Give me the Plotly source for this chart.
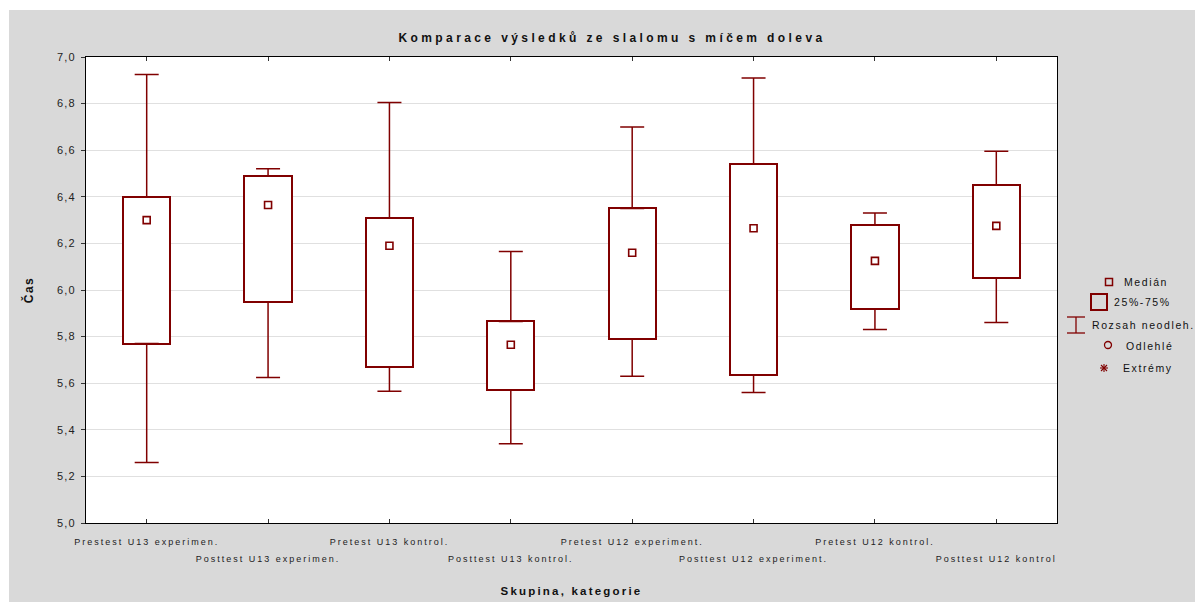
import plotly.graph_objects as go

# ---------------- data ----------------
categories = ["Prestest U13 experimen.", "Posttest U13 experimen.", "Pretest U13 kontrol.",
              "Posttest U13 kontrol.", "Pretest U12 experiment.", "Posttest U12 experiment.",
              "Pretest U12 kontrol.", "Posttest U12 kontrol"]
median = [6.30, 6.365, 6.19, 5.765, 6.16, 6.265, 6.125, 6.275]
q1 = [5.77, 5.95, 5.67, 5.57, 5.79, 5.635, 5.92, 6.05]
q3 = [6.40, 6.49, 6.31, 5.865, 6.35, 6.54, 6.28, 6.45]
whisk_lo = [5.26, 5.625, 5.565, 5.34, 5.63, 5.56, 5.83, 5.86]
whisk_hi = [6.925, 6.52, 6.805, 6.165, 6.70, 6.91, 6.33, 6.595]
ytick_vals = [5.0, 5.2, 5.4, 5.6, 5.8, 6.0, 6.2, 6.4, 6.6, 6.8, 7.0]

title_text = "Komparace výsledků ze slalomu s míčem doleva"
xtitle = "Skupina, kategorie"
ytitle = "Čas"
legend_labels = ["Medián", "25%-75%", "Rozsah neodleh.", "Odlehlé", "Extrémy"]

# ---------------- styling ----------------
RED = "#800000"
OFF = 8                      # page body margin
W, H = 1203 - OFF, 602 - OFF  # figure size
# plot area in page pixels: x 86..1057, y 57..523
ML, MR, MT, MB = 86 - OFF, 1203 - 1057, 57 - OFF, 602 - 523
PW, PH = W - ML - MR, H - MT - MB
FONT = "Liberation Sans, Arial, sans-serif"


def px2x(px):  # page pixel -> paper x
    return (px - OFF - ML) / PW


def px2y(py):  # page pixel -> paper y
    return (H - MB - (py - OFF)) / PH


def spaced(t, size, ls, bold=False):
    s = f"<span style='font-size:{size}px;letter-spacing:{ls}px'>{t}</span>"
    return f"<b>{s}</b>" if bold else s


fig = go.Figure()

# boxes (25%-75%)
fig.add_trace(go.Bar(
    x=categories, base=q1, y=[b - a for a, b in zip(q1, q3)],
    width=0.39, marker=dict(color="white", line=dict(color=RED, width=2)),
    showlegend=False, hoverinfo="skip"))

# upper whiskers
fig.add_trace(go.Scatter(
    x=categories, y=q3, mode="markers",
    marker=dict(size=1, color="rgba(0,0,0,0)"),
    error_y=dict(type="data", symmetric=False,
                 array=[h - b for h, b in zip(whisk_hi, q3)],
                 arrayminus=[0] * len(q3), color=RED, thickness=1.5, width=12),
    showlegend=False, hoverinfo="skip"))

# lower whiskers
fig.add_trace(go.Scatter(
    x=categories, y=q1, mode="markers",
    marker=dict(size=1, color="rgba(0,0,0,0)"),
    error_y=dict(type="data", symmetric=False,
                 array=[0] * len(q1),
                 arrayminus=[a - l for a, l in zip(q1, whisk_lo)],
                 color=RED, thickness=1.5, width=12),
    showlegend=False, hoverinfo="skip"))

# medians
fig.add_trace(go.Scatter(
    x=categories, y=median, mode="markers",
    marker=dict(symbol="square-open", size=7, color=RED, line=dict(width=1.6)),
    showlegend=False, hoverinfo="skip"))

ticktext = []
for i, c in enumerate(categories):
    s = spaced(c, 9, 2.0)
    ticktext.append(("<br>" + s) if i % 2 == 1 else s)

ytext = [spaced(f"{v:.1f}".replace(".", ","), 11, 1.2) for v in ytick_vals]

shapes = []
# thin white strips so the grey panel starts like the original (top 10px, left 9px)
shapes.append(dict(type="rect", xref="paper", yref="paper", layer="below",
                   x0=px2x(0), x1=px2x(1203), y0=px2y(10), y1=px2y(0),
                   fillcolor="white", line=dict(width=0)))
shapes.append(dict(type="rect", xref="paper", yref="paper", layer="below",
                   x0=px2x(0), x1=px2x(9), y0=px2y(602), y1=px2y(0),
                   fillcolor="white", line=dict(width=0)))


def prect(x0, y0, x1, y1, lw):
    shapes.append(dict(type="rect", xref="paper", yref="paper",
                       x0=px2x(x0), x1=px2x(x1), y0=px2y(y1), y1=px2y(y0),
                       line=dict(color=RED, width=lw), fillcolor="rgba(0,0,0,0)"))


def pline(x0, y0, x1, y1, lw=1.3):
    shapes.append(dict(type="line", xref="paper", yref="paper",
                       x0=px2x(x0), x1=px2x(x1), y0=px2y(y0), y1=px2y(y1),
                       line=dict(color=RED, width=lw)))


# legend symbols
prect(1105.5, 278.5, 1112.5, 285.5, 1.5)          # Medián
prect(1091, 294, 1107, 310, 2)                    # 25-75
pline(1067, 317, 1085, 317)                       # whisker symbol
pline(1067, 333, 1085, 333)
pline(1076, 317, 1076, 333)
shapes.append(dict(type="circle", xref="paper", yref="paper",
                   x0=px2x(1104.5), x1=px2x(1111.5), y0=px2y(348.5), y1=px2y(341.5),
                   line=dict(color=RED, width=1.3)))
pline(1100, 368, 1108, 368, 1.1)                  # asterisk
pline(1104, 364, 1104, 372, 1.1)
pline(1101, 365, 1107, 371, 1.1)
pline(1101, 371, 1107, 365, 1.1)

annotations = []
leg_pos = [(1122, 282), (1112, 302), (1090, 325), (1124, 346), (1121, 368)]
for lab, (lx, ly) in zip(legend_labels, leg_pos):
    annotations.append(dict(xref="paper", yref="paper", x=px2x(lx), y=px2y(ly),
                            xanchor="left", yanchor="middle", showarrow=False,
                            text=spaced(lab, 10.5, 1.6),
                            font=dict(family=FONT, size=10.5, color="#111")))

fig.update_layout(
    width=W, height=H, autosize=False,
    margin=dict(l=ML, r=MR, t=MT, b=MB, pad=0, autoexpand=False),
    paper_bgcolor="#d9d9d9", plot_bgcolor="white",
    font=dict(family=FONT, color="#111"),
    title=dict(text=spaced(title_text, 12, 3.4, bold=True),
               x=(612 - OFF) / W, xanchor="center", xref="container",
               y=1 - (38 - OFF) / H, yanchor="middle", yref="container",
               font=dict(family=FONT, size=12, color="#111")),
    showlegend=False,
    shapes=shapes, annotations=annotations,
    bargap=0,
)

fig.update_xaxes(
    type="category", categoryorder="array", categoryarray=categories,
    range=[-0.5, len(categories) - 0.5], automargin=False,
    tickvals=categories, ticktext=ticktext, tickangle=0,
    tickfont=dict(family=FONT, size=13, color="#222"),
    ticks="inside", ticklen=4, tickcolor="#333", ticklabelstandoff=5,
    showline=True, linecolor="black", linewidth=1, mirror="ticks",
    showgrid=False, zeroline=False,
    title=dict(text=spaced(xtitle, 11.5, 2.2, bold=True),
               font=dict(family=FONT, size=11.5, color="#111"), standoff=24),
)

fig.update_yaxes(
    range=[5.0, 7.0], tickvals=ytick_vals, ticktext=ytext, automargin=False,
    tickfont=dict(family=FONT, size=11, color="#222"),
    ticks="outside", ticklen=4, tickcolor="#333", ticklabelstandoff=3,
    showline=True, linecolor="black", linewidth=1, mirror=True,
    showgrid=True, gridcolor="#e0e0e0", gridwidth=1, zeroline=False,
    title=dict(text=spaced(ytitle, 12, 1.5, bold=True),
               font=dict(family=FONT, size=12, color="#111"), standoff=20),
)

fig.write_html("out.html")
